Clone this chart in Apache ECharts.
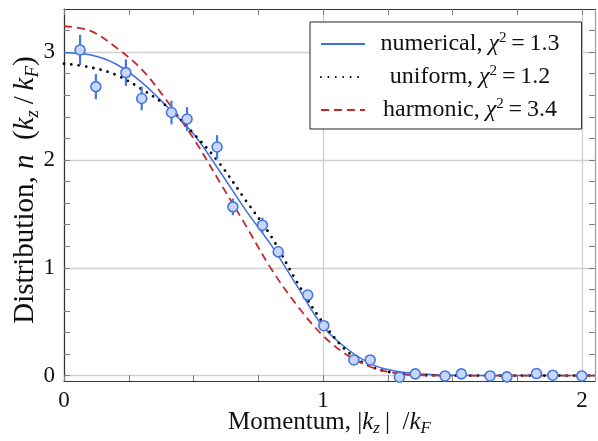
<!DOCTYPE html>
<html>
<head>
<meta charset="utf-8">
<script src="https://cdn.jsdelivr.net/npm/echarts@6/dist/echarts.min.js"></script>
<style>
  html, body { margin: 0; padding: 0; background: #ffffff; }
  #chart { width: 598px; height: 441px; }
</style>
</head>
<body>
<div id="chart"></div>
<script>
// Measured momentum distribution (points with error bars)
const momentum = [0.062, 0.123, 0.239, 0.300, 0.415, 0.475, 0.591, 0.652, 0.766, 0.827, 0.941, 1.003,
                  1.119, 1.182, 1.295, 1.356, 1.471, 1.534, 1.645, 1.710, 1.824, 1.887, 1.999];
const distribution = [3.02, 2.68, 2.81, 2.57, 2.44, 2.38, 2.12, 1.565, 1.395, 1.148, 0.747, 0.463,
                      0.145, 0.145, -0.015, 0.016, -0.003, 0.016, -0.003, -0.012, 0.019, 0.004, -0.003];
const uncertainty = [0.14, 0.117, 0.123, 0.11, 0.11, 0.11, 0.11, 0.077, 0.07, 0.054, 0.046, 0.03,
                     0.025, 0.025, 0.02, 0.02, 0.02, 0.02, 0.02, 0.02, 0.02, 0.02, 0.02];

// Model curves, sampled on a common momentum grid
const curveMomentum = [0, 0.1, 0.2, 0.3, 0.4, 0.5, 0.6, 0.7, 0.8, 0.9, 1.0, 1.1, 1.2, 1.3, 1.4, 1.5, 1.6, 1.8, 2.05];
const numerical = [2.995, 2.975, 2.89, 2.72, 2.49, 2.24, 1.90, 1.54, 1.21, 0.83, 0.455, 0.235, 0.093, 0.033, 0.012, 0.004, 0.001, 0, 0];
const uniform   = [2.893, 2.86, 2.79, 2.656, 2.49, 2.245, 1.97, 1.63, 1.29, 0.865, 0.49, 0.21, 0.07, 0.016, 0.003, 0, 0, 0, 0];
const harmonic  = [3.24, 3.2, 3.045, 2.84, 2.54, 2.2, 1.80, 1.40, 0.99, 0.65, 0.37, 0.18, 0.068, 0.015, 0.003, 0, 0, 0, 0];

const modelNames = ['numerical', 'uniform', 'harmonic'];
const chiSquared = ['1.3', '1.2', '3.4'];

// Axis ticks
const xMajorTicks = [0, 1, 2];
const xMinorTicks = [0, 0.25, 0.5, 0.75, 1, 1.25, 1.5, 1.75, 2];
const yMajorTicks = [0, 1, 2, 3];
const yMinorTicks = [0, 0.2, 0.4, 0.6, 0.8, 1, 1.2, 1.4, 1.6, 1.8, 2, 2.2, 2.4, 2.6, 2.8, 3, 3.2];

const FONT = '"Liberation Serif", "DejaVu Serif", serif';
const X_MIN = 0, X_MAX = 2.05, Y_MIN = -0.05, Y_MAX = 3.4;

// Rich text styles for the axis titles (upright text, math italic, subscripts)
function mathRich(size) {
  return {
    t: { fontFamily: FONT, fontSize: size, color: '#111', lineHeight: Math.round(size * 1.16) },
    i: { fontFamily: FONT, fontSize: size, fontStyle: 'italic', color: '#111', lineHeight: Math.round(size * 1.16) },
    b: { fontFamily: FONT, fontSize: Math.round(size * 0.66), fontStyle: 'italic', color: '#111',
         lineHeight: Math.round(size * 0.66), verticalAlign: 'bottom' }
  };
}

const tickLine = { color: '#808080', width: 1 };
const frameLine = { color: '#333', width: 1.2 };

function zipPairs(xs, ys) { return xs.map((x, i) => [x, ys[i]]); }

const chart = echarts.init(document.getElementById('chart'), null, { renderer: 'canvas' });

chart.setOption({
  animation: false,
  backgroundColor: '#ffffff',
  grid: { left: 64, right: 3, top: 9, bottom: 60, containLabel: false, outerBoundsMode: 'none' },
  xAxis: [
    {
      type: 'value', position: 'bottom', min: X_MIN, max: X_MAX,
      axisLine: { show: true, onZero: false, lineStyle: frameLine },
      axisTick: { show: true, inside: true, length: 6, customValues: xMinorTicks, lineStyle: tickLine },
      axisLabel: { customValues: xMajorTicks, fontFamily: FONT, fontSize: 23, color: '#111', margin: 8 },
      splitLine: { show: false },
      name: '{t|Momentum, |}{i|k}{b|z}{t|\u2009|\u2002/}{i|k}{b|F}',
      nameLocation: 'middle', nameGap: 27, nameMoveOverlap: false,
      nameTextStyle: { rich: mathRich(25) }
    },
    {
      type: 'value', position: 'top', min: X_MIN, max: X_MAX,
      axisLine: { show: true, onZero: false, lineStyle: frameLine },
      axisTick: { show: true, inside: true, length: 6, customValues: xMinorTicks, lineStyle: tickLine },
      axisLabel: { show: false },
      splitLine: { show: false }
    },
    {
      type: 'value', position: 'bottom', min: X_MIN, max: X_MAX,
      axisLine: { show: false }, axisLabel: { show: false },
      axisTick: { show: false, customValues: xMajorTicks },
      splitLine: { show: true, lineStyle: { color: '#cfcfcf', width: 1.3 } }
    }
  ],
  yAxis: [
    {
      type: 'value', position: 'left', min: Y_MIN, max: Y_MAX,
      axisLine: { show: true, onZero: false, lineStyle: frameLine },
      axisTick: { show: true, inside: true, length: 6, customValues: yMinorTicks, lineStyle: tickLine },
      axisLabel: { customValues: yMajorTicks, fontFamily: FONT, fontSize: 23, color: '#111', margin: 9 },
      splitLine: { show: false },
      name: '{t|Distribution, }{i|n}{t|\u2002(}{i|k}{b|z}{t|\u2009/\u2009}{i|k}{b|F}{t|)}',
      nameLocation: 'middle', nameGap: 22, nameRotate: 90, nameMoveOverlap: false,
      nameTextStyle: { rich: mathRich(29), padding: [0, 0, 0, 10] }
    },
    {
      type: 'value', position: 'right', min: Y_MIN, max: Y_MAX,
      axisLine: { show: true, onZero: false, lineStyle: { color: '#9a9a9a', width: 1.2 } },
      axisTick: { show: true, inside: true, length: 6, customValues: yMinorTicks, lineStyle: tickLine },
      axisLabel: { show: false },
      splitLine: { show: false }
    },
    {
      type: 'value', position: 'left', min: Y_MIN, max: Y_MAX,
      axisLine: { show: false }, axisLabel: { show: false },
      axisTick: { show: false, customValues: yMajorTicks },
      splitLine: { show: true, lineStyle: { color: '#cfcfcf', width: 1.3 } }
    }
  ],
  legend: {
    data: modelNames,
    orient: 'vertical',
    left: 310, top: 22,
    padding: [9, 22, 7, 10],
    itemWidth: 44, itemHeight: 14, itemGap: 8,
    selectedMode: false,
    backgroundColor: '#ffffff',
    borderColor: '#222', borderWidth: 1, borderRadius: 0,
    itemStyle: { opacity: 0 },
    formatter: name => {
      const i = modelNames.indexOf(name);
      return '{t|' + name + ', }{m|\u03c7}{s|2}{t|\u2009=\u2009' + chiSquared[i] + '}';
    },
    textStyle: {
      width: 200,
      fontFamily: FONT, fontSize: 24, color: '#111',
      rich: {
        t: { fontFamily: FONT, fontSize: 24, color: '#111', lineHeight: 26, align: 'center' },
        m: { fontFamily: FONT, fontSize: 24, fontStyle: 'italic', color: '#111', lineHeight: 26, align: 'center' },
        s: { fontFamily: FONT, fontSize: 15, color: '#111', lineHeight: 15, verticalAlign: 'top', align: 'center' }
      }
    }
  },
  series: [
    {
      name: 'numerical', type: 'line', xAxisIndex: 0, yAxisIndex: 0,
      data: zipPairs(curveMomentum, numerical),
      symbol: 'none', showSymbol: false, smooth: 0.35,
      lineStyle: { color: '#3e6fdc', width: 1.5 },
      itemStyle: { color: '#3e6fdc' },
      z: 3
    },
    {
      name: 'uniform', type: 'line', xAxisIndex: 0, yAxisIndex: 0,
      data: zipPairs(curveMomentum, uniform),
      symbol: 'none', showSymbol: false, smooth: 0.35,
      lineStyle: { color: '#000000', width: 2.8, type: [0, 7.4], cap: 'round' },
      itemStyle: { color: '#000000' },
      z: 3
    },
    {
      name: 'harmonic', type: 'line', xAxisIndex: 0, yAxisIndex: 0,
      data: zipPairs(curveMomentum, harmonic),
      symbol: 'none', showSymbol: false, smooth: 0.35,
      lineStyle: { color: '#c22a2c', width: 1.8, type: [8, 5] },
      itemStyle: { color: '#c22a2c' },
      z: 3
    },
    {
      name: 'error', type: 'custom', xAxisIndex: 0, yAxisIndex: 0,
      data: momentum.map((k, i) => [k, distribution[i], uncertainty[i]]),
      encode: { x: 0, y: 1 },
      renderItem: (params, api) => {
        const k = api.value(0), n = api.value(1), e = api.value(2);
        const hi = api.coord([k, n + e]);
        const lo = api.coord([k, n - e]);
        return {
          type: 'line',
          shape: { x1: hi[0], y1: hi[1], x2: lo[0], y2: lo[1] },
          style: { stroke: '#4676e2', lineWidth: 2.2 }
        };
      },
      z: 4
    },
    {
      name: 'data', type: 'scatter', xAxisIndex: 0, yAxisIndex: 0,
      data: zipPairs(momentum, distribution),
      symbol: 'circle', symbolSize: 10,
      itemStyle: { color: '#c8d7f6', borderColor: '#4676e2', borderWidth: 1.6, opacity: 1 },
      z: 5
    }
  ]
});
</script>
</body>
</html>
